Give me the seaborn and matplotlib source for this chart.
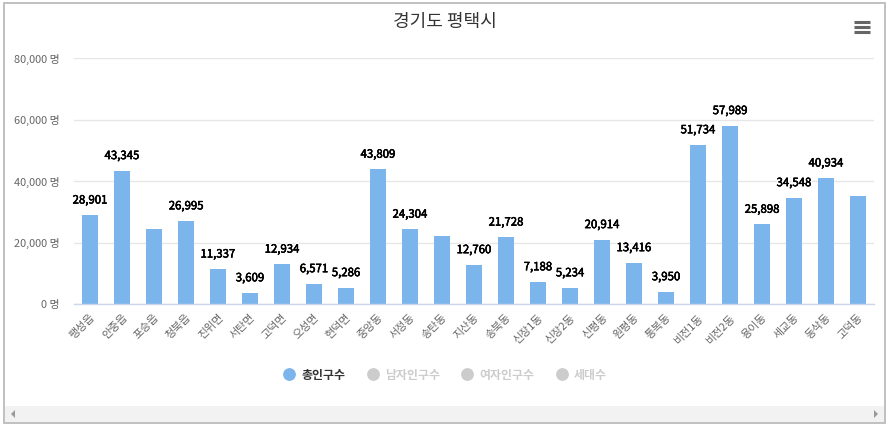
import matplotlib
matplotlib.use("Agg")
import matplotlib.pyplot as plt
import seaborn as sns
import pandas as pd
from matplotlib.lines import Line2D
from matplotlib.patches import Rectangle, Polygon
from matplotlib.ticker import FixedLocator, FuncFormatter
import matplotlib.patheffects as pe

# ---------------- data ----------------
title = "경기도 평택시"
categories = ["팽성읍", "안중읍", "포승읍", "청북읍", "진위면", "서탄면", "고덕면", "오성면",
              "현덕면", "중앙동", "서정동", "송탄동", "지산동", "송북동", "신장1동", "신장2동",
              "신평동", "원평동", "통복동", "비전1동", "비전2동", "용이동", "세교동", "동삭동", "고덕동"]
values = [28901, 43345, 24300, 26995, 11337, 3609, 12934, 6571,
          5286, 43809, 24304, 22000, 12760, 21728, 7188, 5234,
          20914, 13416, 3950, 51734, 57989, 25898, 34548, 40934, 35200]
label_shown = [True, True, False, True, True, True, True, True,
               True, True, True, False, True, True, True, True,
               True, True, True, True, True, True, True, True, False]
series_names = ["총인구수", "남자인구수", "여자인구수", "세대수"]
series_visible = [True, False, False, False]
y_ticks = [0, 20000, 40000, 60000, 80000]
unit = "명"

BAR = "#7cb5ec"
HIDDEN = "#cccccc"

sns.set_style("white")
plt.rcParams["font.family"] = ["Noto Sans CJK KR", "DejaVu Sans"]

W, H = 889, 428
fig = plt.figure(figsize=(W / 100, H / 100), dpi=100)
fig.patch.set_facecolor("white")

ax = fig.add_axes([74 / W, 1 - 304 / H, (874 - 74) / W, (304 - 58) / H])
df = pd.DataFrame({"name": categories, "value": values})
sns.barplot(data=df, x="name", y="value", order=categories, ax=ax, color=BAR,
            saturation=1, width=0.48, linewidth=0, edgecolor=BAR)

ax.set_xlim(-0.5, len(categories) - 0.5)
ax.set_ylim(y_ticks[0], y_ticks[-1])
ax.set_xlabel("")
ax.set_ylabel("")

# grid
ax.yaxis.set_major_locator(FixedLocator(y_ticks))
ax.yaxis.set_major_formatter(FuncFormatter(lambda v, p: f"{int(v):,} {unit}"))
ax.grid(axis="y", color="#e6e6e6", linewidth=1)
ax.grid(axis="x", visible=False)
ax.set_axisbelow(True)
ax.tick_params(axis="y", length=0, pad=10, labelsize=7.9, labelcolor="#666666")

# x axis
for s in ["top", "right", "left"]:
    ax.spines[s].set_visible(False)
ax.spines["bottom"].set_color("#ccd6eb")
ax.spines["bottom"].set_linewidth(1)
ax.set_xticks(range(len(categories)))
ax.set_xticklabels(categories, rotation=45, ha="right", rotation_mode="anchor")
ax.tick_params(axis="x", which="major", length=0, pad=6, labelsize=7.9, labelcolor="#666666")
ax.xaxis.set_minor_locator(FixedLocator([i - 0.5 for i in range(len(categories) + 1)]))
ax.tick_params(axis="x", which="minor", length=7, width=1, color="#ccd6eb", direction="out")

# data labels
for i, (v, show) in enumerate(zip(values, label_shown)):
    if show:
        ax.annotate(f"{v:,}", xy=(i, v), xytext=(0, 10.5), textcoords="offset points",
                    ha="center", va="center", fontsize=8.2, fontweight="normal", color="black",
                    path_effects=[pe.withStroke(linewidth=2.2, foreground="white"),
                                  pe.withStroke(linewidth=0.35, foreground="black")])

# title
fig.text(0.5, 1 - 22 / H, title, ha="center", va="center", fontsize=13, color="#333333")

# legend
handles = []
for name, vis in zip(series_names, series_visible):
    c = BAR if vis else HIDDEN
    handles.append(Line2D([], [], linestyle="", marker="o", markersize=8.2,
                          markerfacecolor=c, markeredgecolor=c))
leg = fig.legend(handles, series_names, loc="center", bbox_to_anchor=(445 / W, 1 - 375 / H),
                 ncol=4, frameon=False, prop={"weight": "bold", "size": 8.6},
                 handlelength=1.0, handletextpad=0.5, columnspacing=1.8)
for t, vis in zip(leg.get_texts(), series_visible):
    t.set_color("#333333" if vis else HIDDEN)

# decorations: border, scrollbar, menu icon
fig.add_artist(Rectangle((4 / W, 1 - 423 / H), (885 - 4) / W, (423 - 3) / H,
                         transform=fig.transFigure, fill=False, edgecolor="#c0c0c0", linewidth=1.4))
fig.add_artist(Rectangle((5 / W, 1 - 422 / H), (884 - 5) / W, (422 - 406) / H,
                         transform=fig.transFigure, facecolor="#f2f2f2", edgecolor="none"))
yc = 1 - 414 / H
fig.add_artist(Polygon([(11 / W, yc), (15 / W, yc + 4 / H), (15 / W, yc - 4 / H)], closed=True,
                       transform=fig.transFigure, facecolor="#999999", edgecolor="none"))
fig.add_artist(Polygon([(878 / W, yc), (874 / W, yc + 4 / H), (874 / W, yc - 4 / H)], closed=True,
                       transform=fig.transFigure, facecolor="#999999", edgecolor="none"))
for yy in (22, 27, 32):
    fig.add_artist(Line2D([854 / W, 870 / W], [1 - yy / H, 1 - yy / H], transform=fig.transFigure,
                          color="#666666", linewidth=2.2, solid_capstyle="butt"))

fig.savefig("out.png", dpi=100, facecolor="white")
